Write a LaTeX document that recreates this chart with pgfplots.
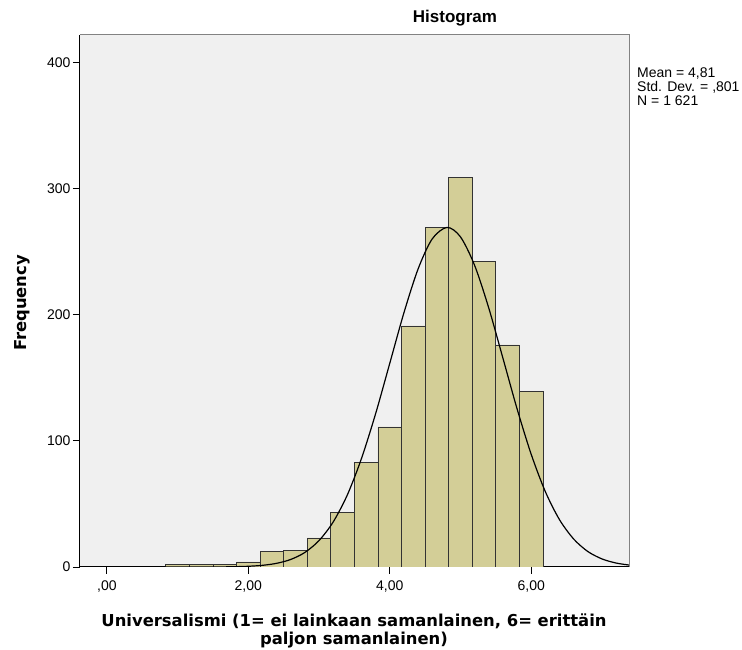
\documentclass[border=0pt]{standalone}
\usepackage{pgfplots}
\pgfplotsset{compat=1.18}
\usepackage{fontspec}
\setmainfont{Liberation Sans}
\newfontfamily\labelfont{DejaVu Sans}
\definecolor{barfill}{RGB}{211,206,151}
\definecolor{bgfill}{RGB}{240,240,240}
\definecolor{framegray}{RGB}{130,130,130}
\begin{document}
\begin{tikzpicture}
\begin{axis}[
  at={(0pt,0pt)}, anchor=south west,
  scale only axis, width=549.5pt, height=532pt,
  xmin=-0.38, xmax=7.39, ymin=0, ymax=421.6,
  axis background/.style={fill=bgfill},
  axis x line*=bottom, axis y line*=left,
  axis line style={black, line width=1pt},
  xtick={0,2,4,6}, xticklabels={{,00},{2,00},{4,00},{6,00}},
  ytick={0,100,200,300,400},
  tick align=outside, major tick length=7pt,
  tick style={black, line width=0.8pt},
  ticklabel style={font=\fontsize{14}{16}\selectfont},
  /pgf/number format/assume math mode=true,
  xticklabel style={yshift=-3pt},
  yticklabel style={xshift=1pt},
  extra description/.code={\draw[framegray, line width=1pt] (rel axis cs:0,1) -- (rel axis cs:1,1) -- (rel axis cs:1,0);},
]
\addplot[ybar interval, fill=barfill, draw=black!80, line width=0.8pt] coordinates {
(0.8333,2) (1.1667,2) (1.5,2) (1.8333,4) (2.1667,12) (2.5,13) (2.8333,23)
(3.1667,43) (3.5,83) (3.8333,111) (4.1667,191) (4.5,269) (4.8333,309)
(5.1667,242) (5.5,176) (5.8333,139) (6.1667,139)};
\addplot[smooth, black, line width=1.2pt, no marks] coordinates {
(-0.38,0) (1.0,0) (1.5,0) (1.8,0.23) (2.0,0.57) (2.2,1.33) (2.4,2.91) (2.6,5.98)
(2.8,11.54) (3.0,20.95) (3.2,35.7) (3.4,57.1) (3.6,86.0) (3.8,121.5)
(4.0,161.4) (4.2,201.4) (4.4,236.1) (4.6,260.0) (4.81,269.1) (5.0,261.6)
(5.2,239.0) (5.4,205.2) (5.6,165.5) (5.8,125.4) (6.0,89.3) (6.2,59.7)
(6.4,37.5) (6.6,22.2) (6.8,12.3) (7.0,6.41) (7.2,3.14) (7.39,1.5)};
\end{axis}
\node[font=\fontsize{17}{20}\selectfont\bfseries] at (375pt,549pt) {Histogram};
\node[rotate=90, font=\labelfont\fontsize{16.4}{18}\selectfont\bfseries] at (-58pt,264pt) {Frequency};
\node[align=center, font=\labelfont\fontsize{16.4}{17.6}\selectfont\bfseries] at (274pt,-64pt) {Universalismi (1= ei lainkaan samanlainen, 6= erittäin\\paljon samanlainen)};
\node[anchor=north west, align=left, inner sep=0pt, font=\fontsize{14}{14}\selectfont] at (557pt,499pt) {Mean = 4,81\\Std. Dev. = ,801\\N = 1 621};
\pgfresetboundingbox
\path (-80pt,-83pt) rectangle (662pt,567pt);
\end{tikzpicture}
\end{document}
